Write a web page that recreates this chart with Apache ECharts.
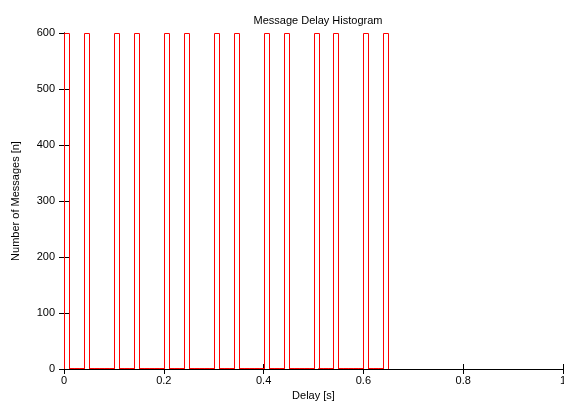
<!DOCTYPE html>
<html><head><meta charset="utf-8">
<script src="https://cdn.jsdelivr.net/npm/echarts@6/dist/echarts.min.js"></script>
<style>html,body{margin:0;padding:0;background:#fff}#c{width:564px;height:403px}</style>
</head><body><div id="c"></div>
<script>
// Bin start positions (s), bin width 0.01 s
const binStarts = [0.00,0.01,0.02,0.03,0.04,0.05,0.06,0.07,0.08,0.09,
  0.10,0.11,0.12,0.13,0.14,0.15,0.16,0.17,0.18,0.19,
  0.20,0.21,0.22,0.23,0.24,0.25,0.26,0.27,0.28,0.29,
  0.30,0.31,0.32,0.33,0.34,0.35,0.36,0.37,0.38,0.39,
  0.40,0.41,0.42,0.43,0.44,0.45,0.46,0.47,0.48,0.49,
  0.50,0.51,0.52,0.53,0.54,0.55,0.56,0.57,0.58,0.59,
  0.60,0.61,0.62,0.63,0.64];
// Message counts per bin (tall bins exceed the 600 axis max and are clipped)
const counts = [900,1,1,1,900,1,1,1,1,1,
  900,1,1,1,900,1,1,1,1,1,
  900,1,1,1,900,1,1,1,1,1,
  900,1,1,1,900,1,1,1,1,1,
  900,1,1,1,900,1,1,1,1,1,
  900,1,1,1,900,1,1,1,1,1,
  900,1,1,1,900];
const binWidth = 0.01;
const xTicks = [0, 0.2, 0.4, 0.6, 0.8, 1];
const yTicks = [0, 100, 200, 300, 400, 500, 600];
const xMax = 1, yMax = 600;

const chart = echarts.init(document.getElementById('c'));
const font = 'Liberation Sans, Arial, sans-serif';
const axisCommon = {
  axisLine: {show: true, lineStyle: {color: '#000', width: 1}},
  axisTick: {show: true, inside: true, length: 5, lineStyle: {color: '#000'}},
  splitLine: {show: false}
};
chart.setOption({
  animation: false,
  title: {text: 'Message Delay Histogram', left: 313, top: 10, textAlign: 'center',
    textStyle: {fontFamily: font, fontSize: 11, fontWeight: 'normal', color: '#000'}},
  grid: {left: 64, top: 33, width: 499, height: 336, containLabel: false, outerBoundsMode: 'none'},
  xAxis: [
    Object.assign({type: 'value', min: 0, max: xMax, interval: 0.2, position: 'bottom',
      name: 'Delay [s]', nameLocation: 'middle', nameGap: 21,
      nameTextStyle: {fontFamily: font, fontSize: 11, color: '#000'},
      axisLabel: {fontFamily: font, fontSize: 11, color: '#000', margin: 6,
        showMaxLabel: true, formatter: v => String(Math.round(v*10)/10)}}, axisCommon),
    Object.assign({type: 'value', min: 0, max: xMax, interval: 0.2, position: 'top',
      axisLabel: {show: false}}, axisCommon)
  ],
  yAxis: [
    Object.assign({type: 'value', min: 0, max: yMax, interval: 100, position: 'left',
      name: 'Number of Messages [n]', nameLocation: 'middle', nameGap: 43,
      nameTextStyle: {fontFamily: font, fontSize: 11, color: '#000'},
      axisLabel: {fontFamily: font, fontSize: 11, color: '#000', margin: 9}}, axisCommon),
    Object.assign({type: 'value', min: 0, max: yMax, interval: 100, position: 'right',
      axisLabel: {show: false}}, axisCommon)
  ],
  series: [{
    type: 'custom',
    clip: true,
    z: 5,
    data: binStarts.map((x, i) => [x, counts[i]]),
    renderItem: function (params, api) {
      const x0 = api.value(0), v = Math.min(api.value(1), yMax);
      const p0 = api.coord([x0, 0]);
      const p1 = api.coord([x0 + binWidth, v]);
      return {
        type: 'rect',
        shape: {x: Math.round(p0[0]) + 0.5, y: Math.round(p1[1]) + 0.5,
          width: Math.round(p1[0] - p0[0]), height: Math.round(p0[1] - p1[1])},
        style: {fill: 'none', stroke: '#ff0000', lineWidth: 1}
      };
    }
  }]
});
</script></body></html>
